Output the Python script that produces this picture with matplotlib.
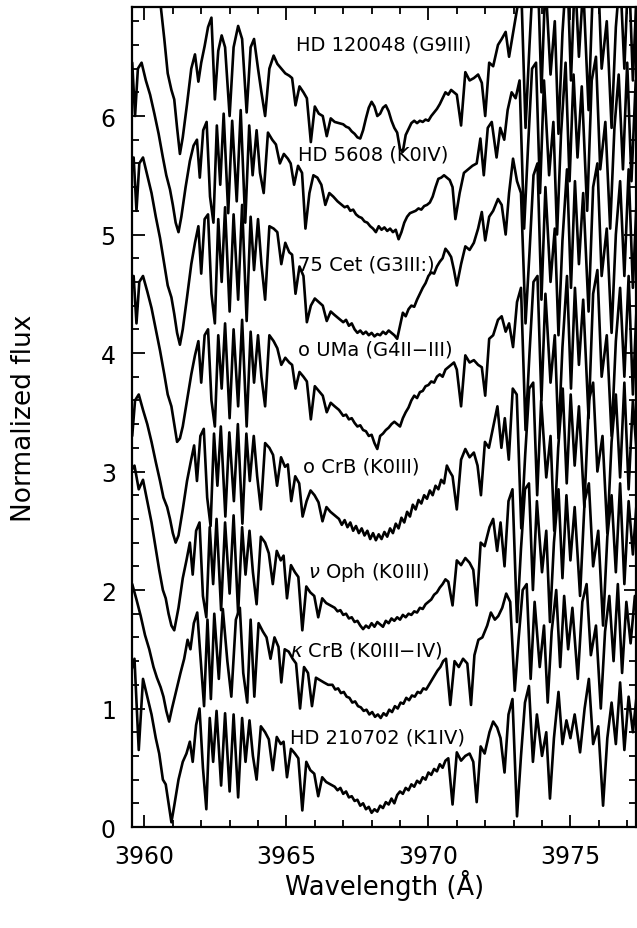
import numpy as np
import matplotlib.pyplot as plt
from matplotlib.ticker import MultipleLocator

# Sampling wavelengths (Angstrom), in the rest frame of the top spectrum
wave = [3959.50, 3959.62, 3959.72, 3959.82, 3959.95, 3960.10, 3960.25, 3960.40, 3960.55, 3960.70,
        3960.82, 3960.95, 3961.05, 3961.15, 3961.25, 3961.35, 3961.50, 3961.65, 3961.78,
        3961.90, 3962.00, 3962.12, 3962.24, 3962.36, 3962.48, 3962.60, 3962.72, 3962.84, 3963.00,
        3963.14, 3963.30, 3963.44, 3963.60, 3963.74, 3963.86, 3964.00, 3964.12, 3964.25, 3964.40,
        3964.55, 3964.68, 3964.82, 3964.96, 3965.10, 3965.20, 3965.32, 3965.46, 3965.60, 3965.72,
        3965.86, 3966.00, 3966.14, 3966.28, 3966.42, 3966.56, 3966.70, 3966.85,
        3967.0, 3967.1, 3967.2, 3967.3, 3967.4, 3967.5, 3967.6, 3967.7, 3967.8, 3967.9,
        3968.0, 3968.1, 3968.2, 3968.3, 3968.4, 3968.5, 3968.6, 3968.7, 3968.8, 3968.9,
        3969.0, 3969.1, 3969.2, 3969.3, 3969.4, 3969.5, 3969.6, 3969.7, 3969.8, 3969.9,
        3970.0, 3970.1, 3970.2, 3970.3, 3970.4, 3970.5, 3970.6, 3970.7, 3970.8, 3970.9, 3971.0,
        3971.15, 3971.30, 3971.45, 3971.60, 3971.75, 3971.88, 3972.00, 3972.14, 3972.28, 3972.45,
        3972.58, 3972.72, 3972.84, 3972.98, 3973.12, 3973.26, 3973.42, 3973.56, 3973.70, 3973.84,
        3973.98, 3974.12, 3974.30, 3974.45, 3974.58, 3974.72, 3974.88, 3975.02, 3975.16, 3975.30,
        3975.45, 3975.64, 3975.80, 3975.95, 3976.10, 3976.28, 3976.45, 3976.60, 3976.75, 3976.90,
        3977.05, 3977.20, 3977.35, 3977.50, 3977.65, 3977.80]

# Normalized flux of each star on the grid above
flux_hd120048 = [1.90, 2.00, 1.70, 1.95, 2.00, 1.85, 1.70, 1.55, 1.38, 1.05, 0.76, 0.62, 0.54, 0.30, 0.08, 0.22, 0.50, 0.80, 0.92,
                 0.69, 0.85, 0.99, 1.15, 1.23, 0.54, 0.95, 1.08, 0.98, 0.40, 0.98, 1.16, 1.05, 0.43, 0.98, 1.05, 0.80, 0.60, 0.40, 0.80,
                 0.91, 0.84, 0.80, 0.76, 0.74, 0.72, 0.49, 0.65, 0.60, 0.55, 0.18, 0.48, 0.42, 0.40, 0.23, 0.38, 0.35, 0.34,
                 0.33, 0.31, 0.30, 0.27, 0.25, 0.22, 0.21, 0.28, 0.38, 0.47, 0.52, 0.48, 0.40, 0.42, 0.47, 0.49, 0.44, 0.36, 0.30, 0.26,
                 0.12, 0.10, 0.24, 0.29, 0.34, 0.36, 0.34, 0.36, 0.35, 0.37, 0.36, 0.40, 0.43, 0.46, 0.50, 0.55, 0.60, 0.58, 0.62, 0.60, 0.58,
                 0.32, 0.77, 0.70, 0.72, 0.75, 0.68, 0.40, 0.85, 0.82, 1.00, 1.05, 1.11, 0.90, 1.10, 1.30, 1.55, 0.30, 1.00, 1.65, 1.70,
                 0.60, 1.55, 0.75, 1.20, 0.25, 1.10, 1.70, 0.70, 1.60, 0.90, 1.50, 0.45, 1.55, 1.75, 0.80, 1.20, 0.30, 1.15, 1.60, 0.80,
                 1.70, 0.70, 1.55, 1.00, 1.60, 1.50]
flux_hd5608 = [1.55, 1.65, 1.20, 1.60, 1.65, 1.50, 1.38, 1.22, 1.05, 0.85, 0.70, 0.58, 0.45, 0.30, 0.22, 0.35, 0.60, 0.82, 0.95,
               1.00, 0.68, 1.08, 1.15, 0.52, 0.30, 1.12, 0.62, 1.22, 0.38, 1.16, 0.48, 1.25, 0.30, 1.12, 0.70, 1.08, 0.72, 0.55, 1.06,
               1.00, 0.96, 0.80, 0.88, 0.84, 0.80, 0.62, 0.78, 0.72, 0.25, 0.55, 0.70, 0.68, 0.62, 0.45, 0.55, 0.52, 0.48,
               0.45, 0.43, 0.44, 0.40, 0.41, 0.37, 0.35, 0.34, 0.31, 0.30, 0.27, 0.25, 0.22, 0.27, 0.24, 0.26, 0.23, 0.25, 0.22, 0.24,
               0.16, 0.22, 0.30, 0.35, 0.38, 0.39, 0.40, 0.42, 0.41, 0.44, 0.45, 0.47, 0.52, 0.60, 0.67, 0.68, 0.70, 0.68, 0.66, 0.60, 0.33,
               0.55, 0.72, 0.75, 0.78, 0.80, 1.01, 0.70, 1.10, 1.15, 0.85, 1.10, 1.00, 1.25, 1.40, 1.35, 1.50, 0.25, 0.95, 1.60, 1.65,
               0.55, 1.50, 0.70, 1.15, 0.20, 1.05, 1.65, 0.65, 1.55, 0.85, 1.45, 0.40, 1.50, 1.70, 0.75, 1.15, 0.25, 1.10, 1.55, 0.75,
               1.65, 0.65, 1.50, 0.95, 1.55, 1.45]
flux_75cet = [1.60, 1.70, 1.25, 1.65, 1.70, 1.55, 1.40, 1.20, 1.02, 0.80, 0.62, 0.52, 0.38, 0.22, 0.12, 0.25, 0.52, 0.80, 0.98,
              1.12, 0.72, 1.18, 1.22, 0.55, 0.30, 1.18, 0.65, 1.28, 0.40, 1.22, 0.50, 1.30, 0.32, 1.20, 0.75, 1.18, 0.80, 0.50, 1.12,
              1.10, 1.07, 0.80, 0.98, 0.90, 0.88, 0.55, 0.78, 0.70, 0.31, 0.45, 0.51, 0.48, 0.45, 0.32, 0.40, 0.37, 0.34,
              0.31, 0.33, 0.28, 0.30, 0.25, 0.22, 0.24, 0.21, 0.23, 0.20, 0.22, 0.19, 0.21, 0.20, 0.23, 0.21, 0.24, 0.22, 0.20, 0.17,
              0.28, 0.39, 0.36, 0.42, 0.45, 0.44, 0.50, 0.55, 0.60, 0.64, 0.70, 0.73, 0.72, 0.78, 0.82, 0.85, 0.93, 0.90, 0.86, 0.75, 0.62,
              0.80, 0.95, 0.92, 0.98, 1.10, 1.24, 1.00, 1.20, 1.25, 1.35, 1.30, 1.05, 1.40, 1.69, 1.50, 1.40, 0.30, 0.90, 1.55, 1.65,
              0.50, 1.45, 0.65, 1.10, 0.20, 1.00, 1.60, 0.60, 1.50, 0.80, 1.40, 0.40, 1.45, 1.65, 0.70, 1.10, 0.22, 1.05, 1.50, 0.70,
              1.60, 0.60, 1.45, 0.90, 1.50, 1.40]
flux_ouma = [1.45, 1.55, 1.15, 1.50, 1.55, 1.42, 1.28, 1.10, 0.92, 0.72, 0.55, 0.45, 0.30, 0.15, 0.18, 0.28, 0.50, 0.72, 0.88,
             1.00, 0.65, 1.05, 1.10, 0.50, 0.28, 1.05, 0.60, 1.15, 0.35, 1.10, 0.45, 1.18, 0.28, 1.08, 0.65, 1.05, 0.70, 0.45, 1.05,
             1.00, 0.94, 0.80, 0.86, 0.82, 0.80, 0.60, 0.74, 0.70, 0.66, 0.34, 0.62, 0.58, 0.54, 0.40, 0.48, 0.45, 0.42,
             0.37, 0.38, 0.34, 0.35, 0.31, 0.28, 0.29, 0.25, 0.24, 0.20, 0.21, 0.14, 0.09, 0.20, 0.22, 0.25, 0.27, 0.30, 0.32, 0.30,
             0.28, 0.35, 0.40, 0.44, 0.50, 0.54, 0.52, 0.57, 0.58, 0.62, 0.63, 0.66, 0.65, 0.70, 0.72, 0.70, 0.76, 0.78, 0.80, 0.82, 0.76,
             0.45, 0.88, 0.82, 0.84, 0.80, 0.78, 0.54, 1.02, 1.05, 1.18, 1.21, 1.08, 1.15, 0.95, 1.33, 1.45, 0.25, 0.90, 1.50, 1.55,
             0.50, 1.40, 0.65, 1.05, 0.18, 0.95, 1.55, 0.60, 1.45, 0.80, 1.35, 0.35, 1.40, 1.60, 0.70, 1.05, 0.20, 1.00, 1.45, 0.70,
             1.55, 0.55, 1.40, 0.85, 1.45, 1.35]
flux_ocrb = [1.25, 1.35, 1.00, 1.30, 1.35, 1.22, 1.10, 0.95, 0.78, 0.62, 0.48, 0.40, 0.30, 0.18, 0.10, 0.16, 0.38, 0.62, 0.78,
             0.92, 0.62, 1.00, 1.06, 0.48, 0.24, 1.02, 0.58, 1.08, 0.32, 1.03, 0.45, 1.10, 0.26, 1.02, 0.62, 1.00, 0.66, 0.38, 0.94,
             0.90, 0.84, 0.58, 0.82, 0.74, 0.76, 0.45, 0.66, 0.60, 0.32, 0.45, 0.54, 0.50, 0.44, 0.28, 0.40, 0.36, 0.33,
             0.30, 0.25, 0.29, 0.23, 0.27, 0.20, 0.24, 0.18, 0.22, 0.16, 0.20, 0.13, 0.18, 0.12, 0.17, 0.13, 0.19, 0.15, 0.22, 0.18,
             0.26, 0.22, 0.31, 0.27, 0.36, 0.32, 0.42, 0.38, 0.46, 0.43, 0.50, 0.47, 0.54, 0.50, 0.58, 0.55, 0.63, 0.60, 0.75, 0.70, 0.66,
             0.38, 0.80, 0.89, 0.82, 0.86, 0.75, 0.50, 0.95, 0.90, 1.10, 1.25, 0.90, 1.15, 0.80, 1.40, 1.35, 0.22, 0.85, 1.40, 1.45,
             0.50, 1.30, 0.65, 1.00, 0.20, 0.90, 1.40, 0.60, 1.35, 0.75, 1.25, 0.40, 1.30, 1.45, 0.70, 1.00, 0.18, 0.95, 1.35, 0.65,
             1.45, 0.55, 1.30, 0.80, 1.35, 1.25]
flux_noph = [1.45, 1.45, 1.45, 1.45, 1.50, 1.30, 1.38, 1.20, 1.02, 0.80, 0.62, 0.45, 0.38, 0.25, 0.15, 0.11, 0.30, 0.55, 0.70,
             0.85, 0.58, 0.95, 1.02, 0.40, 0.22, 0.98, 0.50, 1.05, 0.28, 1.02, 0.42, 1.08, 0.25, 0.98, 0.58, 0.95, 0.60, 0.33, 0.90,
             0.85, 0.76, 0.50, 0.78, 0.70, 0.74, 0.38, 0.66, 0.60, 0.56, 0.11, 0.48, 0.43, 0.40, 0.22, 0.38, 0.34, 0.32,
             0.30, 0.27, 0.28, 0.24, 0.25, 0.21, 0.22, 0.18, 0.19, 0.15, 0.12, 0.15, 0.13, 0.17, 0.14, 0.18, 0.16, 0.14, 0.19, 0.17,
             0.21, 0.19, 0.22, 0.20, 0.24, 0.22, 0.25, 0.24, 0.27, 0.26, 0.30, 0.29, 0.33, 0.35, 0.37, 0.41, 0.43, 0.47, 0.50, 0.54, 0.52,
             0.32, 0.70, 0.66, 0.72, 0.68, 0.62, 0.32, 0.85, 0.82, 0.98, 1.05, 0.78, 1.02, 0.65, 1.20, 1.30, 0.18, 0.80, 1.30, 1.35,
             0.45, 1.20, 0.60, 0.95, 0.18, 0.85, 1.30, 0.55, 1.25, 0.70, 1.15, 0.40, 1.20, 1.35, 0.65, 0.95, 0.15, 0.90, 1.25, 0.60,
             1.35, 0.50, 1.20, 0.75, 1.25, 1.15]
flux_kcrb = [1.25, 1.25, 1.25, 1.25, 1.25, 1.12, 0.98, 0.82, 0.70, 0.55, 0.46, 0.38, 0.30, 0.18, 0.09, 0.20, 0.35, 0.50, 0.62,
             0.78, 0.70, 0.92, 1.01, 0.62, 0.22, 0.95, 0.28, 1.00, 0.45, 1.04, 0.60, 0.30, 0.95, 1.05, 0.50, 0.25, 0.95, 0.30, 0.92,
             0.85, 0.80, 0.62, 0.80, 0.72, 0.42, 0.70, 0.68, 0.62, 0.58, 0.20, 0.55, 0.50, 0.22, 0.46, 0.44, 0.42, 0.40,
             0.40, 0.36, 0.37, 0.33, 0.34, 0.30, 0.29, 0.25, 0.26, 0.22, 0.21, 0.18, 0.19, 0.15, 0.17, 0.13, 0.15, 0.12, 0.16, 0.14,
             0.19, 0.17, 0.22, 0.20, 0.25, 0.24, 0.29, 0.27, 0.31, 0.30, 0.34, 0.33, 0.37, 0.36, 0.40, 0.44, 0.48, 0.52, 0.55, 0.60, 0.62,
             0.23, 0.60, 0.55, 0.62, 0.58, 0.23, 0.65, 0.78, 0.80, 0.90, 1.01, 0.95, 0.98, 1.05, 1.17, 1.10, 0.35, 0.80, 1.20, 1.25,
             0.45, 1.10, 0.55, 0.90, 0.25, 0.85, 1.20, 0.55, 1.15, 0.70, 1.05, 0.45, 1.10, 1.25, 0.65, 0.90, 0.20, 0.85, 1.15, 0.60,
             1.25, 0.50, 1.10, 0.75, 1.15, 1.10]
flux_hd210702 = [1.30, 1.30, 1.30, 1.30, 1.42, 0.65, 1.25, 1.10, 0.95, 0.75, 0.62, 0.40, 0.36, 0.20, 0.04, 0.18, 0.40, 0.55, 0.62,
                 0.72, 0.55, 0.86, 1.00, 0.50, 0.15, 0.92, 0.55, 0.98, 0.35, 0.96, 0.30, 0.95, 0.25, 0.92, 0.55, 0.90, 0.60, 0.40, 0.85,
                 0.80, 0.74, 0.48, 0.76, 0.70, 0.72, 0.42, 0.66, 0.62, 0.58, 0.14, 0.55, 0.48, 0.45, 0.26, 0.42, 0.38, 0.36,
                 0.34, 0.31, 0.33, 0.28, 0.30, 0.25, 0.26, 0.22, 0.23, 0.18, 0.20, 0.15, 0.17, 0.12, 0.15, 0.13, 0.18, 0.16, 0.21, 0.19,
                 0.24, 0.20, 0.27, 0.30, 0.28, 0.33, 0.31, 0.36, 0.34, 0.39, 0.37, 0.42, 0.40, 0.46, 0.44, 0.49, 0.47, 0.53, 0.50, 0.56, 0.58,
                 0.19, 0.63, 0.56, 0.60, 0.62, 0.55, 0.21, 0.68, 0.62, 0.80, 0.89, 0.84, 0.75, 0.46, 0.95, 1.08, 0.09, 0.60, 1.05, 1.19,
                 0.55, 0.95, 0.60, 0.80, 0.24, 0.75, 1.14, 0.70, 0.90, 0.75, 0.95, 0.63, 1.00, 1.25, 0.70, 0.85, 0.18, 0.75, 1.05, 0.70,
                 1.22, 0.65, 1.10, 0.80, 1.15, 1.10]

stars = ['HD 120048 (G9III)', 'HD 5608 (K0IV)', '75 Cet (G3III:)', 'ο UMa (G4II−III)',
         'ο CrB (K0III)', r'$\nu$ Oph (K0III)', r'$\kappa$ CrB (K0III−IV)', 'HD 210702 (K1IV)']
spectra = [flux_hd120048, flux_hd5608, flux_75cet, flux_ouma,
           flux_ocrb, flux_noph, flux_kcrb, flux_hd210702]
offsets = [5.6, 4.8, 3.95, 3.1, 2.3, 1.55, 0.8, 0.0]
shifts = [0.0, -0.05, 0.0, 0.0, -0.15, -0.3, -0.38, -0.3]
label_x = [3965.34, 3965.41, 3965.41, 3965.41, 3965.58, 3965.76, 3965.13, 3965.13]
label_y = [6.61, 5.68, 4.75, 4.03, 3.05, 2.16, 1.50, 0.76]

plt.rcParams['font.family'] = 'DejaVu Sans'
plt.rcParams['mathtext.fontset'] = 'dejavusans'

fig = plt.figure(figsize=(6.37, 9.29), dpi=100)
ax = fig.add_axes([0.208, 0.1087, 0.790, 0.8827])

w = np.array(wave)
for flux, off, dw in zip(spectra, offsets, shifts):
    ax.plot(w + dw, np.array(flux) + off, color='k', lw=1.9)

for name, x, y in zip(stars, label_x, label_y):
    ax.text(x, y, name, fontsize=14, ha='left', va='center')

ax.set_xlim(3959.58, 3977.3)
ax.set_ylim(0, 6.92)
ax.xaxis.set_major_locator(MultipleLocator(5))
ax.xaxis.set_minor_locator(MultipleLocator(1))
ax.yaxis.set_major_locator(MultipleLocator(1))
ax.yaxis.set_minor_locator(MultipleLocator(0.2))
ax.tick_params(which='both', direction='in', top=True, right=True, width=1.3, labelsize=17)
ax.tick_params(which='major', length=9, pad=12)
ax.tick_params(which='minor', length=5)
for s in ax.spines.values():
    s.set_linewidth(1.6)

ax.set_xlabel('Wavelength (Å)', fontsize=18.5, labelpad=1)
ax.set_ylabel('Normalized flux', fontsize=19, labelpad=46)

fig.savefig('out.png', dpi=100)
